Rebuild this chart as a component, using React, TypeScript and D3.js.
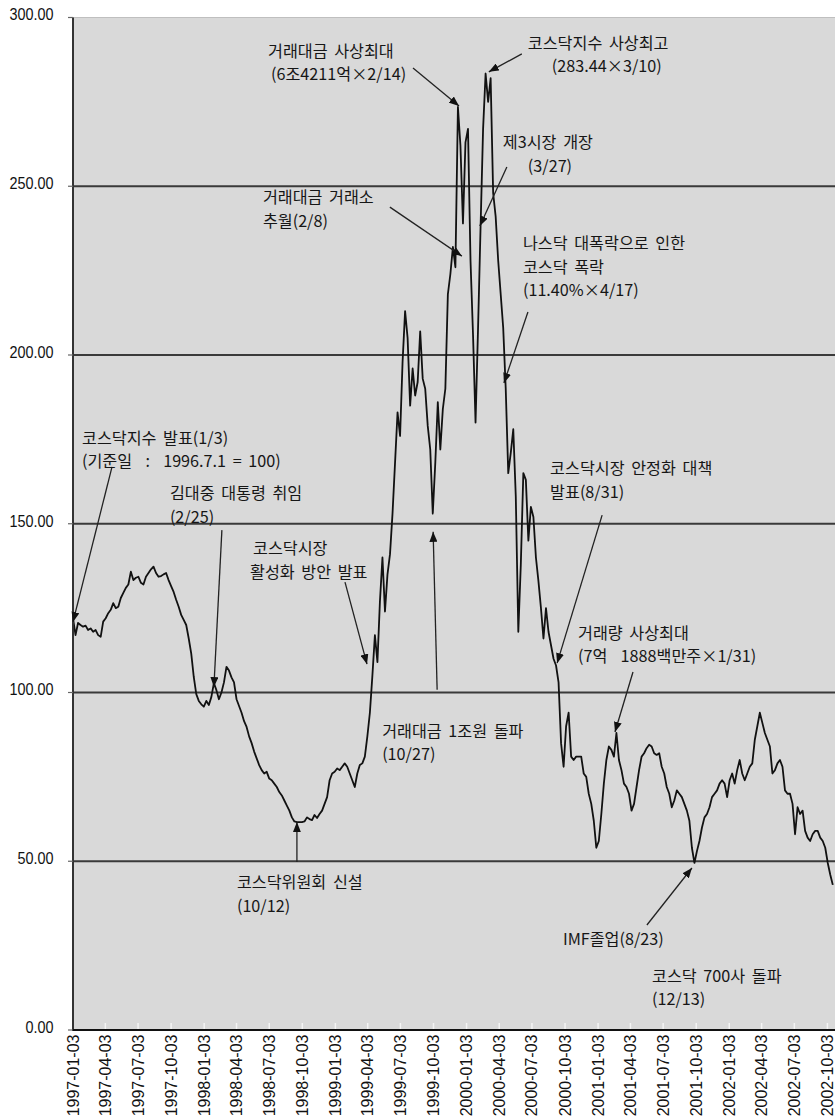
import React from "react";
import * as d3 from "d3";

// ---- data ----
const firstWeek = "1997-01-03"; // weekly closes, one value per week from this date
const weeklyIndex: number[] = [
  122, 117, 120.6, 120, 119.5, 119.8, 118.5, 119, 118, 118.5,
  117, 116.5, 121, 122, 123.5, 124.5, 126.5, 125, 125.4, 128,
  129.5, 131, 132, 135.8, 133.3, 134, 134.3, 132.5, 132, 134.3,
  135.4, 136.5, 137.3, 135.4, 134.3, 134.5, 135, 135.4, 133.3, 131.5,
  129.8, 127.5, 125.4, 123, 121.5, 120, 116, 111.5, 104.6, 99.5,
  97.5, 96.5, 95.8, 97.5, 96.3, 98.7, 102.8, 100.7, 98, 100,
  103, 107.6, 106.5, 104.5, 103, 98, 96, 94, 91.5, 89.8,
  87, 85, 82.5, 80.5, 78.5, 77, 76, 76.5, 74.5, 74,
  73, 72, 70.5, 69.5, 68, 66.5, 65, 63, 61.8, 61.6,
  61.6, 61.6, 61.8, 63, 62.5, 62.2, 63.7, 62.8, 64, 65,
  67, 69, 74, 76, 76.5, 77.5, 77, 78, 79, 78,
  76, 74, 72, 76, 78.5, 79, 81, 87, 94, 105,
  117, 109, 127, 140, 124, 135, 141, 153, 168, 183,
  176, 198, 213, 205, 185, 196, 188, 192, 207, 193,
  190, 179, 172, 153, 168, 186, 172, 184, 190, 218,
  224, 232, 226, 273.5, 262, 239, 263, 267, 228, 206,
  180, 208, 238, 267, 283.4, 275, 282, 248, 241, 228,
  218, 208, 190, 165, 171, 178, 158, 118, 138, 165,
  163, 145, 155, 152, 140, 133, 125, 116, 125, 118,
  114, 110, 108, 103, 85, 78, 90, 94, 81, 80,
  81, 81, 81, 76, 75, 70, 67, 62, 54, 56,
  64, 73, 80, 84, 83, 81, 88, 80, 77, 73,
  72, 70, 65, 67, 72, 77, 81, 82, 83.5, 84.5,
  84, 82, 81.5, 82, 78, 76, 72, 70, 66, 68,
  71, 70, 69, 67, 65, 62, 54, 49.5, 53, 56,
  60, 63, 64, 66, 69, 70, 71, 73, 74, 73,
  69, 74, 76, 73, 77, 80, 76, 74, 76, 78,
  79, 86, 90, 94, 91, 88, 86, 84, 76, 77,
  79, 80, 78, 71, 70, 70, 67, 58, 66, 64,
  65, 59, 57, 56, 58, 59, 59, 57, 56, 54,
  49.5, 46, 43,
];

const yTickValues = [0, 50, 100, 150, 200, 250, 300];

const quarterLabels = [
  "1997-01-03", "1997-04-03", "1997-07-03", "1997-10-03",
  "1998-01-03", "1998-04-03", "1998-07-03", "1998-10-03",
  "1999-01-03", "1999-04-03", "1999-07-03", "1999-10-03",
  "2000-01-03", "2000-04-03", "2000-07-03", "2000-10-03",
  "2001-01-03", "2001-04-03", "2001-07-03", "2001-10-03",
  "2002-01-03", "2002-04-03", "2002-07-03", "2002-10-03",
];

// annotation texts and the points they refer to
const noteLines: string[][] = [
  ["거래대금 사상최대", "(6조4211억×2/14)"],
  ["코스닥지수 사상최고", "(283.44×3/10)"],
  ["제3시장 개장", "(3/27)"],
  ["거래대금 거래소", "추월(2/8)"],
  ["나스닥 대폭락으로 인한", "코스닥 폭락", "(11.40%×4/17)"],
  ["코스닥지수 발표(1/3)", "(기준일  :  1996.7.1 = 100)"],
  ["김대중 대통령 취임", "(2/25)"],
  ["코스닥시장", "활성화 방안 발표"],
  ["거래대금 1조원 돌파", "(10/27)"],
  ["코스닥위원회 신설", "(10/12)"],
  ["코스닥시장 안정화 대책", "발표(8/31)"],
  ["거래량 사상최대", "(7억  1888백만주×1/31)"],
  ["IMF졸업(8/23)"],
  ["코스닥 700사 돌파", "(12/13)"],
];
const noteDates = [
  "1999-12-13", "2000-03-05", "2000-02-09", "1999-12-21", "2000-04-16",
  "1997-01-03", "1998-01-30", "1999-04-01", "1999-10-02", "1998-09-18",
  "2000-09-11", "2001-02-19", "2001-09-21", "2001-06-02",
];
const noteValues = [273.8, 283.9, 238.2, 229.3, 191.7, 120.9, 101.6, 108.4, 147.6, 61.6, 108.7, 88.3, 48, 16.3];

// ---- layout (pixel offsets from the referenced point) ----
const noteLayout: { tail: [number, number] | null; text: [number, number][] }[] = [
  { tail: [-46, -38], text: [[-191, -56], [-188, -32.5]] },
  { tail: [33, -18], text: [[39, -30], [63, -6.5]] },
  { tail: [27, -59], text: [[23, -85], [48, -61.5]] },
  { tail: [-72, -49], text: [[-199, -60], [-199, -36.5]] },
  { tail: [24, -71], text: [[19, -141], [19, -117.5], [19, -94]] },
  { tail: [39, -155], text: [[9, -185], [9, -161.5]] },
  { tail: [8, -157], text: [[-44, -195], [-44, -171.5]] },
  { tail: [-22, -82], text: [[-114, -117], [-117, -93.5]] },
  { tail: [4, 158], text: [[-51, 198], [-51, 221.5]] },
  { tail: [0, 40], text: [[-60, 59], [-60, 82.5]] },
  { tail: [45, -148], text: [[-7, -196], [-7, -172.5]] },
  { tail: [18, -60], text: [[-37, -100], [-37, -76.5]] },
  { tail: [-45, 57], text: [[-129, 70]] },
  { tail: null, text: [[0, 0], [0, 23.5]] },
];

const W = 835;
const H = 1118;
const PLOT = { left: 73, top: 17.5, bottom: 1030, lastTick: 827.4 };

export default function App() {
  const parse = d3.utcParse("%Y-%m-%d");
  const x = d3
    .scaleUtc()
    .domain([parse(quarterLabels[0])!, parse(quarterLabels[quarterLabels.length - 1])!])
    .range([PLOT.left, PLOT.lastTick]);
  const y = d3.scaleLinear().domain([0, 300]).range([PLOT.bottom, PLOT.top]);

  const start = parse(firstWeek)!;
  const series = weeklyIndex.map((v, i) => ({ d: d3.utcDay.offset(start, 7 * i), v }));
  const line = d3
    .line<{ d: Date; v: number }>()
    .x((p) => x(p.d))
    .y((p) => y(p.v));

  const cjk = "'Noto Sans CJK KR', 'Noto Sans', sans-serif";
  const latin = "'Liberation Sans', Arial, sans-serif";

  return (
    <svg
      width={W}
      height={H}
      viewBox={`0 0 ${W} ${H}`}
      style={{ position: "absolute", left: 0, top: 0, background: "#ffffff" }}
    >
      <defs>
        <marker
          id="ah"
          viewBox="0 0 10 8"
          refX={10}
          refY={4}
          markerWidth={10}
          markerHeight={8}
          markerUnits="userSpaceOnUse"
          orient="auto"
        >
          <path d="M0,0 L10,4 L0,8 Z" fill="#111" />
        </marker>
      </defs>

      {/* plot background */}
      <rect x={PLOT.left} y={PLOT.top} width={W - PLOT.left + 10} height={PLOT.bottom - PLOT.top} fill="#d9d9d9" />
      <line x1={PLOT.left} x2={W + 10} y1={PLOT.top} y2={PLOT.top} stroke="#bfbfbf" strokeWidth={1.2} />

      {/* gridlines */}
      {yTickValues
        .filter((t) => t > 0 && t < 300)
        .map((t) => (
          <line key={t} x1={PLOT.left} x2={W + 10} y1={y(t)} y2={y(t)} stroke="#3a3a3a" strokeWidth={1.8} />
        ))}

      {/* x ticks inside */}
      {quarterLabels.map((q) => (
        <line
          key={"t" + q}
          x1={x(parse(q)!)}
          x2={x(parse(q)!)}
          y1={PLOT.bottom - 7}
          y2={PLOT.bottom}
          stroke="#f4f4f4"
          strokeWidth={1.5}
        />
      ))}

      {/* series */}
      <path d={line(series) || ""} fill="none" stroke="#111" strokeWidth={1.8} strokeLinejoin="round" />

      {/* axes */}
      <line x1={PLOT.left} x2={PLOT.left} y1={PLOT.top} y2={PLOT.bottom} stroke="#333" strokeWidth={2} />
      <line x1={PLOT.left - 1} x2={W + 10} y1={PLOT.bottom} y2={PLOT.bottom} stroke="#111" strokeWidth={2} />
      {yTickValues.map((t) => (
        <line key={"yt" + t} x1={PLOT.left - 5} x2={PLOT.left} y1={y(t)} y2={y(t)} stroke="#666" strokeWidth={1.2} />
      ))}

      {/* y labels */}
      {yTickValues.map((t) => (
        <text
          key={"yl" + t}
          transform={`translate(53.5, ${y(t) - 3}) scale(0.9, 1)`}
          textAnchor="end"
          dominantBaseline="central"
          fontFamily={latin}
          fontSize={16}
          fill="#111"
        >
          {t.toFixed(2)}
        </text>
      ))}

      {/* x labels */}
      {quarterLabels.map((q) => (
        <text
          key={"xl" + q}
          transform={`translate(${x(parse(q)!) + 5.5}, 1034.5) rotate(-90)`}
          textAnchor="end"
          fontFamily={latin}
          fontSize={16}
          fill="#111"
        >
          {q}
        </text>
      ))}

      {/* annotations */}
      {noteLines.map((lines, k) => {
        const px = x(parse(noteDates[k])!);
        const py = y(noteValues[k]);
        const lay = noteLayout[k];
        return (
          <g key={"n" + k}>
            {lay.tail && (
              <line
                x1={px + lay.tail[0]}
                y1={py + lay.tail[1]}
                x2={px}
                y2={py}
                stroke="#222"
                strokeWidth={1.3}
                markerEnd="url(#ah)"
              />
            )}
            {lines.map((s, j) => (
              <text
                key={j}
                x={px + lay.text[j][0]}
                y={py + lay.text[j][1]}
                dominantBaseline="central"
                fontFamily={cjk}
                fontSize={16.2}
                wordSpacing={3}
                fill="#161616"
                style={{ whiteSpace: "pre" }}
              >
                {s}
              </text>
            ))}
          </g>
        );
      })}
    </svg>
  );
}
